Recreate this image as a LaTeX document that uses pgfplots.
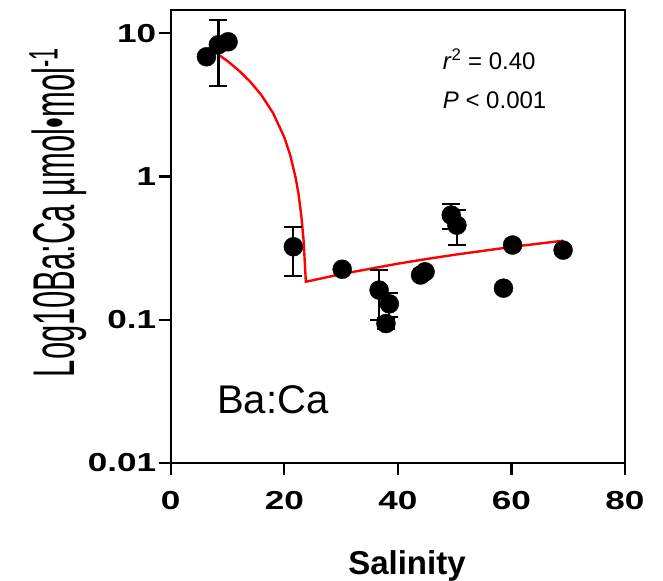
\documentclass[border=0pt]{standalone}
\usepackage{graphicx}
\usepackage{fontspec}
\setmainfont{Liberation Sans}
\usepackage{pgfplots}
\pgfplotsset{compat=1.18}
\newcommand\tk[1]{\scalebox{1.35}[1]{\fontsize{26bp}{26bp}\selectfont\bfseries #1}}
\begin{document}
\begin{tikzpicture}
\path[use as bounding box] (0,0) rectangle (663bp,581bp);
\begin{axis}[
  at={(170.7bp,118bp)}, anchor=south west,
  scale only axis, width=454.3bp, height=453bp,
  xmin=0, xmax=80, ymode=log, ymin=0.01, ymax=14.5,
  axis line style={line width=2.2bp},
  xtick={0,20,40,60,80}, xticklabels={\tk{0},\tk{20},\tk{40},\tk{60},\tk{80}},
  ytick={0.01,0.1,1,10}, yticklabels={\tk{0.01},\tk{0.1},\tk{1},\tk{10}},
  xminorticks=false, yminorticks=false,
  xtick pos=bottom, ytick pos=left, tick align=outside,
  major tick length=12bp, tick style={line width=2.2bp, black},
  xticklabel style={yshift=-13bp},
  yticklabel style={xshift=1bp},
  xlabel={\fontsize{33bp}{33bp}\selectfont\bfseries Salinity},
  xlabel style={at={(axis description cs:0.52,-0.247)}, anchor=base},
  ylabel={\scalebox{1}[1.9]{\fontsize{31bp}{31bp}\selectfont Log10Ba:Ca µmol•mol\textsuperscript{-1}}},
  ylabel style={at={(axis description cs:-0.248,0.553)}, anchor=center, rotate=0},
  clip=false,
]
\addplot[red, line width=2.4bp, no marks] coordinates {
 (6.6,7.9) (8,7.28) (10,6.38) (12,5.48) (14,4.58) (16,3.68) (18,2.78) (20,1.88)
 (21,1.43) (22,0.98) (22.5,0.76) (23,0.53) (23.4,0.36) (23.8,0.184)
 (30,0.208) (40,0.246) (45,0.265) (50,0.284) (60,0.322) (69.1,0.356)};
\addplot[only marks, mark=*, mark size=9.5bp, black,
  error bars/.cd, y dir=both, y explicit,
  error bar style={line width=2.2bp, black},
  error mark options={rotate=90, mark size=9bp, line width=2.2bp, black}]
  table[x=x, y=y, y error=e] {
 x y e
 8.4 8.3 4.0
 21.6 0.323 0.12
 36.7 0.161 0.061
 37.9 0.094 0.008
 38.5 0.129 0.025
 49.4 0.537 0.105
 50.4 0.457 0.126
 69.1 0.306 0.015
};
\addplot[only marks, mark=*, mark size=9.5bp, black] table {
 x y
 6.3 6.84
 10.1 8.7
 30.2 0.225
 44.0 0.205
 44.8 0.216
 58.6 0.166
 60.2 0.332
};
\node[anchor=base west, inner sep=0pt, font=\fontsize{24bp}{24bp}\selectfont] at (axis cs:47.9,5.53) {\textit{r}\textsuperscript{2} = 0.40};
\node[anchor=base west, inner sep=0pt, font=\fontsize{24bp}{24bp}\selectfont] at (axis cs:47.9,3.0) {\textit{P} < 0.001};
\node[anchor=base west, inner sep=0pt, font=\fontsize{40bp}{40bp}\selectfont] at (axis cs:8.15,0.02233) {Ba:Ca};
\end{axis}
\end{tikzpicture}
\end{document}
